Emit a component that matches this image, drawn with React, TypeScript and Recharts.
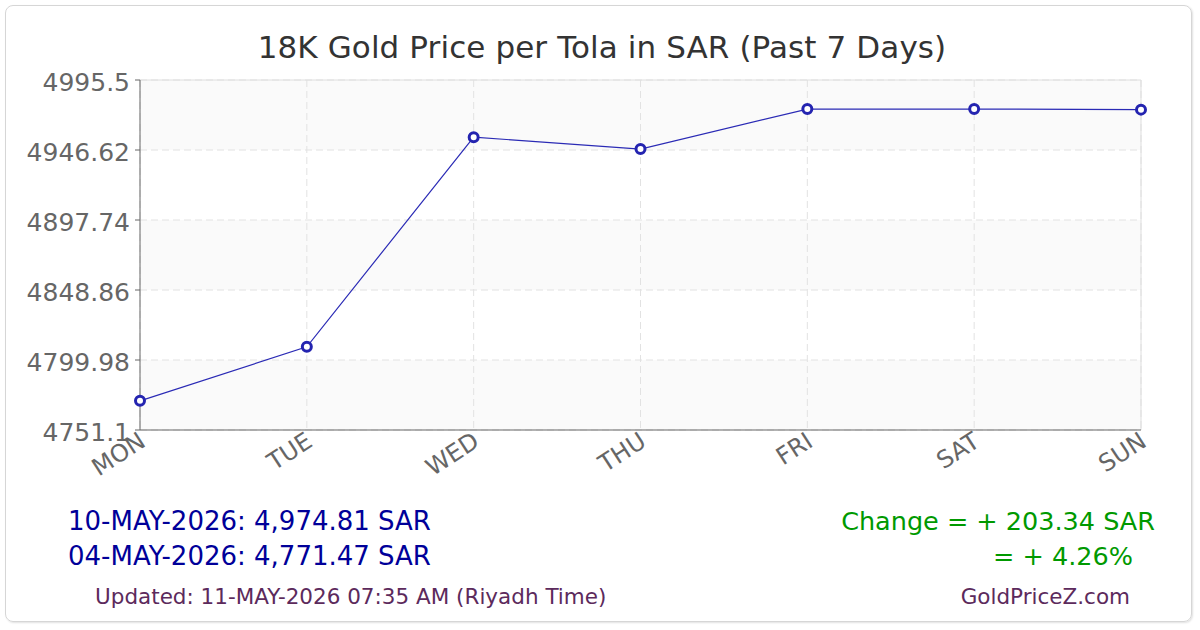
import { CartesianGrid, Line, LineChart, ReferenceLine, XAxis, YAxis } from "recharts";

const DAYS = ["MON", "TUE", "WED", "THU", "FRI", "SAT", "SUN"];
const PRICES = [4771.47, 4809.2, 4955.6, 4947.3, 4975.2, 4975.2, 4974.81];
const Y_TICKS = [4751.1, 4799.98, 4848.86, 4897.74, 4946.62, 4995.5];

const TITLE = "18K Gold Price per Tola in SAR (Past 7 Days)";
const LATEST = "10-MAY-2026: 4,974.81 SAR";
const FIRST = "04-MAY-2026: 4,771.47 SAR";
const CHANGE = "Change = + 203.34 SAR";
const CHANGE_PCT = "= + 4.26%";
const UPDATED = "Updated: 11-MAY-2026 07:35 AM (Riyadh Time)";
const SITE = "GoldPriceZ.com";

const FONT = "'DejaVu Sans', sans-serif";

const data = DAYS.map((day, i) => ({ day, price: PRICES[i] }));

function DayTick({ x, y, payload }: any) {
  return (
    <text
      x={x + 2}
      y={y}
      dy={10}
      transform={`rotate(-33, ${x}, ${y})`}
      textAnchor="end"
      fill="#666"
      fontSize={24}
      fontFamily={FONT}
    >
      {payload.value}
    </text>
  );
}

export default function App() {
  return (
    <div style={{ position: "absolute", left: 0, top: 0, width: 1200, height: 630, background: "#fff", fontFamily: FONT }}>
      <div
        style={{
          position: "absolute",
          left: 5,
          top: 5,
          width: 1187,
          height: 617,
          border: "1px solid #d6d6d6",
          borderRadius: 8,
          boxShadow: "1px 1px 2px rgba(0,0,0,0.12)",
          boxSizing: "border-box",
        }}
      />
      <div style={{ position: "absolute", left: 0, top: 29, width: 1204, textAlign: "center", fontSize: 31, color: "#333", letterSpacing: 0.1 }}>
        {TITLE}
      </div>
      <div style={{ position: "absolute", left: 0, top: 0 }}>
        <LineChart width={1200} height={500} data={data} margin={{ top: 80, right: 59, bottom: 0, left: 0 }}>
          <CartesianGrid
            stroke="#e2e2e2"
            strokeDasharray="7 4"
            horizontalFill={["#fafafa", "#ffffff"]}
            fillOpacity={1}
          />
          <ReferenceLine y={4995.5} stroke="#dedede" />
          <ReferenceLine x="SUN" stroke="#dedede" />
          <XAxis
            dataKey="day"
            height={70}
            stroke="#666"
            tickLine={false}
            tick={<DayTick />}
            interval={0}
          />
          <YAxis
            width={140}
            domain={[4751.1, 4995.5]}
            ticks={Y_TICKS}
            stroke="#666"
            tickSize={5}
            tickMargin={5}
            tick={{ fill: "#666", fontSize: 25, fontFamily: FONT, dy: 2 }}
            interval={0}
          />
          <Line
            type="linear"
            dataKey="price"
            stroke="#2a2ab5"
            strokeWidth={1.2}
            dot={{ r: 4.5, stroke: "#2424b0", strokeWidth: 3, fill: "#fff" }}
            isAnimationActive={false}
          />
        </LineChart>
      </div>
      <div style={{ position: "absolute", left: 68, top: 504, fontSize: 26, color: "#000099", lineHeight: "35px" }}>
        <div>{LATEST}</div>
        <div>{FIRST}</div>
      </div>
      <div style={{ position: "absolute", right: 45, top: 504, fontSize: 25.5, color: "#009900", lineHeight: "35px", textAlign: "right" }}>
        <div>{CHANGE}</div>
        <div style={{ paddingRight: 22 }}>{CHANGE_PCT}</div>
      </div>
      <div style={{ position: "absolute", left: 95, top: 584, fontSize: 21.5, color: "#5c2a5c" }}>{UPDATED}</div>
      <div style={{ position: "absolute", right: 70, top: 584, fontSize: 21.5, color: "#5c2a5c" }}>{SITE}</div>
    </div>
  );
}
